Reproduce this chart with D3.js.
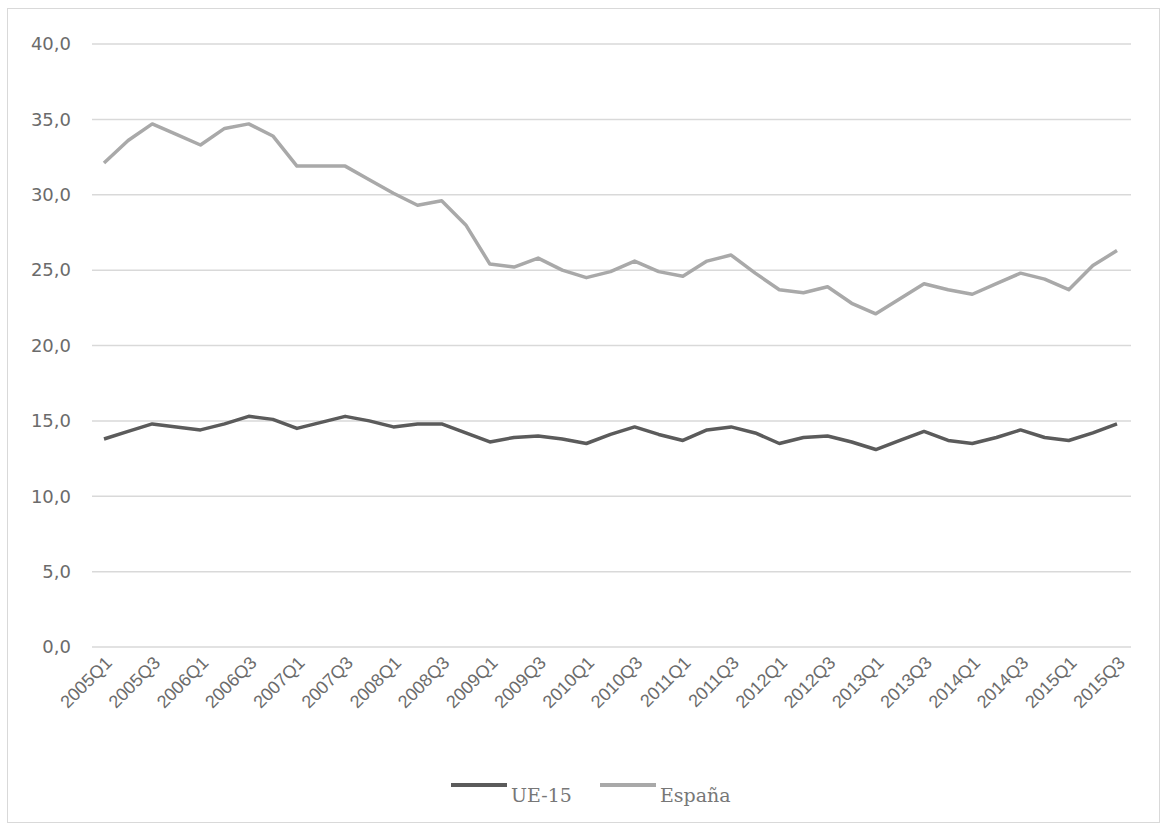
<!DOCTYPE html>
<html>
<head>
<meta charset="utf-8">
<script src="https://cdn.jsdelivr.net/npm/d3@7"></script>
<style>
  body { margin: 0; background: #fff; }
  svg { display: block; }
</style>
</head>
<body>
<div id="chart"></div>
<script>
// Data
const quarters = [];
for (let y = 2005; y <= 2015; y++) {
  for (let q = 1; q <= 4; q++) {
    if (y === 2015 && q > 3) break;
    quarters.push(y + 'Q' + q);
  }
}
const ue15 = [13.8, 14.3, 14.8, 14.6, 14.4, 14.8, 15.3, 15.1, 14.5, 14.9,
  15.3, 15.0, 14.6, 14.8, 14.8, 14.2, 13.6, 13.9, 14.0, 13.8,
  13.5, 14.1, 14.6, 14.1, 13.7, 14.4, 14.6, 14.2, 13.5, 13.9,
  14.0, 13.6, 13.1, 13.7, 14.3, 13.7, 13.5, 13.9, 14.4, 13.9,
  13.7, 14.2, 14.8];
const espana = [32.1, 33.6, 34.7, 34.0, 33.3, 34.4, 34.7, 33.9, 31.9, 31.9,
  31.9, 31.0, 30.1, 29.3, 29.6, 28.0, 25.4, 25.2, 25.8, 25.0,
  24.5, 24.9, 25.6, 24.9, 24.6, 25.6, 26.0, 24.8, 23.7, 23.5,
  23.9, 22.8, 22.1, 23.1, 24.1, 23.7, 23.4, 24.1, 24.8, 24.4,
  23.7, 25.3, 26.3];
const yTicks = [0, 5, 10, 15, 20, 25, 30, 35, 40];
const seriesNames = ['UE-15', 'España'];
const seriesColors = ['#5b5b5b', '#a9a9a9'];

const W = 1165, H = 827;
const svg = d3.select('#chart').append('svg').attr('width', W).attr('height', H);

// outer frame
svg.append('rect')
  .attr('x', 7.5).attr('y', 8.5)
  .attr('width', 1152).attr('height', 814)
  .attr('fill', 'none').attr('stroke', '#d9d9d9').attr('stroke-width', 1);

const x = d3.scalePoint().domain(quarters).range([104, 1117]);
const y = d3.scaleLinear().domain([0, 40]).range([647, 44]);

// gridlines
svg.append('g').selectAll('line')
  .data(yTicks)
  .join('line')
  .attr('x1', 92).attr('x2', 1131)
  .attr('y1', d => y(d)).attr('y2', d => y(d))
  .attr('stroke', '#d9d9d9').attr('stroke-width', 1.5);

// y axis labels
svg.append('g').selectAll('text')
  .data(yTicks)
  .join('text')
  .attr('x', 71).attr('y', d => y(d))
  .attr('dy', '0.35em')
  .attr('text-anchor', 'end')
  .style('font-family', 'DejaVu Sans, sans-serif')
  .style('font-size', '18px')
  .attr('fill', '#6b6b6b')
  .text(d => d3.format('.1f')(d).replace('.', ','));

// x axis labels, every other quarter
svg.append('g').selectAll('text')
  .data(quarters.filter((d, i) => i % 2 === 0))
  .join('text')
  .attr('transform', d => `translate(${x(d) + 9},${664}) rotate(-45)`)
  .attr('text-anchor', 'end')
  .style('font-family', 'Liberation Sans, Arial, sans-serif')
  .style('font-size', '18px')
  .attr('fill', '#6b6b6b')
  .text(d => d);

// lines
const line = d3.line().x((d, i) => x(quarters[i])).y(d => y(d));
[ue15, espana].forEach((s, k) => {
  svg.append('path')
    .datum(s)
    .attr('d', line)
    .attr('fill', 'none')
    .attr('stroke', seriesColors[k])
    .attr('stroke-width', 3.5)
    .attr('stroke-linejoin', 'round');
});

// legend
const legX = [451, 600];
seriesNames.forEach((name, k) => {
  const g = svg.append('g');
  g.append('line')
    .attr('x1', legX[k]).attr('x2', legX[k] + 56)
    .attr('y1', 785).attr('y2', 785)
    .attr('stroke', seriesColors[k]).attr('stroke-width', 4);
  g.append('text')
    .attr('x', legX[k] + 60).attr('y', 802)
    .style('font-family', 'DejaVu Serif, serif')
    .style('font-size', '19px')
    .attr('fill', '#777')
    .text(name);
});
</script>
</body>
</html>
